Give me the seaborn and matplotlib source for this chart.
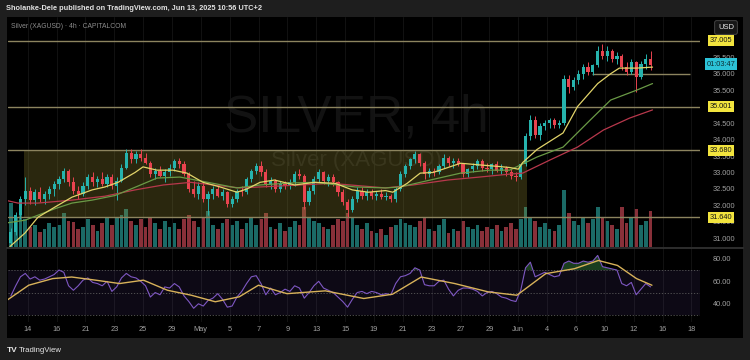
import numpy as np
import seaborn as sns
import matplotlib.pyplot as plt
from matplotlib.patches import Rectangle
from matplotlib.lines import Line2D

# # DATA  (4h silver CFD, aggregated to 3 bars per trading day)

tick_labels = ["14", "16", "21", "23", "25", "29", "May", "5", "7", "9", "13", "15",
               "19", "21", "23", "27", "29", "Jun", "4", "6", "10", "12", "16", "18"]

opens = [30.85, 31.2, 31.7, 32.2, 32.45, 32.15, 32.4, 32.2, 32.35, 32.5,
         32.65, 32.8, 33.05, 32.7, 32.45, 32.35, 32.6, 32.85, 32.7, 32.8,
         32.65, 32.85, 32.6, 32.75, 33.15, 33.6, 33.4, 33.55, 33.45, 33.3,
         32.95, 33.05, 32.9, 33.0, 33.15, 33.35, 33.25, 32.95, 32.5, 32.35,
         32.6, 32.2, 32.35, 32.5, 32.3, 32.4, 32.05, 32.2, 32.45, 32.4,
         32.8, 33.05, 33.2, 33.0, 32.65, 32.75, 32.5, 32.65, 32.6, 32.7,
         32.95, 32.9, 32.1, 32.45, 32.8, 33.0, 32.75, 32.85, 32.7, 32.4,
         32.1, 31.85, 32.2, 32.45, 32.3, 32.4, 32.3, 32.35, 32.25, 32.3,
         32.2, 32.5, 32.95, 33.2, 33.4, 33.55, 33.3, 32.95, 33.05, 33.0,
         33.2, 33.45, 33.3, 33.35, 33.25, 32.95, 33.1, 33.2, 33.35, 33.15,
         33.1, 33.25, 33.05, 33.15, 33.0, 32.9, 32.85, 33.25, 34.1, 34.6,
         34.15, 34.4, 34.5, 34.6, 34.45, 34.5, 35.85, 35.6, 35.8, 36.0,
         36.2, 36.05, 36.25, 36.7, 36.55, 36.7, 36.45, 36.55, 36.2, 36.05,
         36.35, 35.9, 36.3, 36.45]

highs = [31.3, 31.8, 32.3, 32.85, 32.55, 32.5, 32.55, 32.45, 32.6, 32.75,
         32.9, 33.15, 33.1, 32.85, 32.6, 32.7, 32.95, 33.0, 32.9, 33.0,
         32.95, 32.95, 32.85, 33.25, 33.7, 33.7, 33.65, 33.7, 33.6, 33.35,
         33.15, 33.2, 33.1, 33.25, 33.4, 33.45, 33.35, 33.0, 32.75, 32.7,
         32.7, 32.45, 32.6, 32.65, 32.5, 32.45, 32.3, 32.5, 32.6, 32.85,
         33.1, 33.3, 33.35, 33.1, 32.85, 32.8, 32.75, 32.75, 32.8, 33.05,
         33.1, 32.95, 32.55, 32.9, 33.1, 33.05, 32.95, 32.95, 32.75, 32.5,
         32.2, 32.3, 32.55, 32.55, 32.5, 32.5, 32.45, 32.5, 32.4, 32.35,
         32.55, 33.05, 33.25, 33.45, 33.65, 33.6, 33.35, 33.15, 33.15, 33.25,
         33.55, 33.5, 33.45, 33.45, 33.3, 33.15, 33.3, 33.4, 33.4, 33.3,
         33.3, 33.35, 33.25, 33.2, 33.1, 33.0, 33.3, 34.2, 34.75, 34.7,
         34.5, 34.6, 34.65, 34.65, 34.6, 35.95, 35.95, 35.9, 36.1, 36.3,
         36.35, 36.3, 36.85, 36.9, 36.85, 36.75, 36.65, 36.6, 36.35, 36.45,
         36.4, 36.4, 36.6, 36.7]

lows = [30.75, 31.1, 31.6, 32.0, 32.05, 32.0, 32.1, 32.05, 32.2, 32.3,
        32.5, 32.7, 32.6, 32.35, 32.2, 32.3, 32.5, 32.6, 32.55, 32.6,
        32.55, 32.5, 32.15, 32.7, 33.1, 33.3, 33.3, 33.35, 33.25, 32.85,
        32.8, 32.85, 32.7, 32.9, 33.05, 33.15, 32.9, 32.4, 32.25, 32.2,
        32.1, 31.7, 32.2, 32.25, 32.15, 31.95, 31.95, 32.1, 32.3, 32.35,
        32.7, 32.95, 32.9, 32.55, 32.5, 32.4, 32.4, 32.5, 32.5, 32.6,
        32.8, 31.9, 32.0, 32.35, 32.7, 32.65, 32.6, 32.6, 32.3, 32.0,
        31.65, 31.8, 32.1, 32.2, 32.15, 32.2, 32.15, 32.2, 32.15, 32.1,
        32.1, 32.45, 32.85, 33.1, 33.3, 33.2, 32.8, 32.85, 32.9, 32.95,
        33.15, 33.2, 33.15, 33.2, 32.85, 32.85, 33.0, 33.1, 33.05, 33.0,
        32.95, 33.0, 32.95, 32.9, 32.8, 32.75, 32.8, 33.2, 34.0, 34.05,
        34.0, 34.3, 34.35, 34.35, 34.35, 34.45, 35.4, 35.5, 35.7, 35.85,
        35.95, 35.95, 36.2, 36.45, 36.4, 36.35, 36.3, 36.1, 35.95, 36.0,
        35.45, 35.85, 36.15, 36.1]

closes = [31.2, 31.7, 32.2, 32.45, 32.15, 32.4, 32.2, 32.35, 32.5, 32.65,
          32.8, 33.05, 32.7, 32.45, 32.35, 32.6, 32.85, 32.7, 32.8, 32.65,
          32.85, 32.6, 32.75, 33.15, 33.6, 33.4, 33.55, 33.45, 33.3, 32.95,
          33.05, 32.9, 33.0, 33.15, 33.35, 33.25, 32.95, 32.5, 32.35, 32.6,
          32.2, 32.35, 32.5, 32.3, 32.4, 32.05, 32.2, 32.45, 32.4, 32.8,
          33.05, 33.2, 33.0, 32.65, 32.75, 32.5, 32.65, 32.6, 32.7, 32.95,
          32.9, 32.1, 32.45, 32.8, 33.0, 32.75, 32.85, 32.7, 32.4, 32.1,
          31.85, 32.2, 32.45, 32.3, 32.4, 32.3, 32.35, 32.25, 32.3, 32.2,
          32.5, 32.95, 33.2, 33.4, 33.55, 33.3, 32.95, 33.05, 33.0, 33.2,
          33.45, 33.3, 33.35, 33.25, 32.95, 33.1, 33.2, 33.35, 33.15, 33.1,
          33.25, 33.05, 33.15, 33.0, 32.9, 32.85, 33.25, 34.1, 34.6, 34.15,
          34.4, 34.5, 34.6, 34.45, 34.5, 35.85, 35.6, 35.8, 36.0, 36.2,
          36.05, 36.25, 36.7, 36.55, 36.7, 36.45, 36.55, 36.2, 36.05, 36.35,
          35.9, 36.3, 36.45, 36.25]

volumes = [44, 30, 34, 28, 20, 22, 15, 18, 24, 20,
           22, 34, 26, 25, 18, 20, 28, 22, 16, 24,
           30, 22, 30, 32, 38, 26, 22, 28, 20, 30,
           24, 18, 26, 20, 24, 18, 28, 32, 26, 20,
           30, 36, 22, 18, 24, 28, 22, 26, 18, 24,
           30, 22, 28, 34, 20, 18, 24, 16, 20, 26,
           22, 40, 30, 26, 24, 20, 18, 22, 28, 26,
           34, 30, 22, 18, 24, 16, 14, 18, 12, 20,
           22, 28, 24, 22, 20, 26, 30, 18, 16, 22,
           28, 14, 18, 16, 26, 20, 18, 22, 16, 20,
           18, 22, 16, 20, 24, 18, 28, 40, 30, 26,
           20, 24, 18, 16, 22, 57, 34, 26, 22, 30,
           24, 28, 40, 30, 26, 22, 18, 40, 24, 30,
           38, 22, 26, 36]

rsi = [47, 56, 64, 67, 62, 64, 61, 62, 64, 66,
       70, 68, 56, 52, 56, 61, 63, 59, 58, 56,
       60, 51, 55, 63, 67, 64, 63, 60, 56, 46,
       50, 48, 55, 54, 58, 55, 47, 42, 36, 40,
       38, 43, 45, 49, 44, 37, 38, 46, 51, 58,
       64, 65, 58, 48, 54, 48, 50, 53, 51, 56,
       54, 45, 50, 56, 60, 54, 52, 50, 46, 42,
       37, 44, 50, 51, 49, 51, 50, 48, 49, 48,
       58, 64, 65, 67, 72, 70, 57, 56, 56, 60,
       61, 53, 47, 52, 54, 54, 53, 51, 47, 50,
       51, 49, 46, 45, 43, 42, 52, 72, 77, 64,
       66, 68, 66, 64, 65, 76, 78, 76, 76, 78,
       77, 78, 83, 73, 72, 71, 70, 58, 56, 59,
       48, 53, 58, 55]

# moving averages read at a few points (x in trading days from Apr 14)
ma_fast_days = [-1.23, -0.19, 0.71, 1.89, 3.07, 4.46, 5.36, 6.26, 7.44, 7.99, 8.96,
                10.07, 11.04, 12.15, 13.33, 14.5, 15.2, 16.1, 17.1, 18.5, 19.9,
                21.3, 22.5, 23.6, 24.8, 25.3, 26.3, 27.2, 28.1, 30.0, 31.3, 32.7,
                33.4, 34.0, 34.3, 35.3, 37.1, 38.1, 39.5, 40.4, 41.0, 42.2, 43.3]
ma_fast = [30.75, 31.16, 31.64, 31.95, 32.25, 32.47, 32.56, 32.7, 33.0, 33.17, 33.07,
           33.07, 32.98, 32.7, 32.56, 32.4, 32.5, 32.7, 32.77, 32.62, 32.7,
           32.67, 32.47, 32.4, 32.45, 32.4, 32.67, 32.98, 33.0, 33.28, 33.23, 33.18,
           33.15, 33.1, 33.3, 33.7, 34.2, 35.0, 35.7, 36.0, 36.17, 36.17, 36.2]

ma_mid_days = [-1.57, -0.19, 1.89, 3.07, 4.46, 6.05, 7.44, 8.96, 10.55, 12.85, 14.5,
               16.1, 18.2, 19.9, 22.7, 24.8, 25.8, 27.9, 30.0, 32.0, 33.4, 35.3,
               37.1, 39.0, 40.4, 42.2, 43.3]
ma_mid = [31.46, 31.55, 31.9, 32.07, 32.16, 32.3, 32.55, 32.83, 32.86, 32.67, 32.53,
          32.62, 32.68, 32.7, 32.56, 32.53, 32.56, 32.77, 32.98, 33.07, 33.07, 33.47,
          33.77, 34.6, 35.2, 35.5, 35.7]

ma_slow_days = [-1.57, -0.67, 0.71, 3.07, 5.36, 7.44, 9.4, 11.3, 12.85, 14.7, 16.1,
                18.9, 21.0, 24.8, 26.7, 29.1, 31.3, 33.4, 34.3, 36.2, 38.1, 39.9,
                41.7, 43.3]
ma_slow = [32.16, 32.07, 32.07, 32.16, 32.28, 32.47, 32.62, 32.7, 32.62, 32.53, 32.56,
           32.62, 32.67, 32.53, 32.62, 32.77, 32.86, 32.95, 32.98, 33.38, 33.77, 34.29,
           34.65, 34.9]

rsi_ma_days = [-1.43, 0.07, 1.73, 3.05, 4.71, 6.37, 8.02, 9.69, 11.34, 13.0, 14.66,
               15.99, 17.97, 20.63, 23.29, 25.28, 27.27, 29.59, 31.91, 33.9, 35.9,
               37.89, 39.55, 40.87, 42.19, 43.26]
rsi_ma = [43.2, 56.5, 62.4, 63.8, 61, 58, 61, 52, 47.6, 41.8, 46.2,
          56.5, 49, 51.5, 44.7, 48.5, 63.8, 58, 50.6, 47.6, 66.8,
          71.2, 78.5, 74.1, 62.4, 56.5]

levels = [37.005, 35.001, 33.680, 31.640]
level_short = 36.0
box_start, box_end = -0.26, 34.6
price_ticks = [31.0, 31.5, 32.0, 32.5, 33.0, 33.5, 34.0, 34.5, 35.5, 36.0, 36.5]

# # LAYOUT HELPERS

W, H = 750, 360
BG = "#1e1e1e"
TEAL, RED = "#26b3ad", "#e8434f"
TAN = "#8c845f"
GRID = "#151515"


def rect(x0, y0, x1, y1):
    # pixel box (top-left origin) -> figure fraction
    return [x0 / W, 1 - y1 / H, (x1 - x0) / W, (y1 - y0) / H]


sns.set_theme(style="dark")
plt.rcParams['font.family'] = ['Liberation Sans', 'DejaVu Sans']

fig = plt.figure(figsize=(7.5, 3.6), dpi=100, facecolor=BG)
fig.add_artist(Rectangle((7 / W, 1 - 338 / H), 736 / W, 321 / H,
                         transform=fig.transFigure, facecolor="#000000",
                         edgecolor="none", zorder=-5))

n = len(closes)
xs = np.arange(n) / 3 - 7 / 6
up = np.array(closes) >= np.array(opens)
cols = np.where(up, TEAL, RED)
vcols = np.where(up, "#1b6a66", "#883039")
xlim = (-1.365, 46.59)
ticks = np.arange(len(tick_labels)) * 2


def style(a):
    a.set_facecolor("none")
    for s in a.spines.values():
        s.set_visible(False)
    a.set_xlim(*xlim)
    a.set_xlabel("")
    a.set_ylabel("")


# volume (drawn beneath price)
vax = fig.add_axes(rect(8, 17, 700, 247), label="vol")
style(vax)
vax.bar(xs, volumes, width=0.26, color=vcols, linewidth=0)
vax.set_ylim(0, 230)
vax.set_xticks([])
vax.set_yticks([])

# price pane
ax = fig.add_axes(rect(8, 17, 700, 247), label="price")
style(ax)
ax.set_ylim(30.736, 37.722)
ax.set_xticks(ticks)
ax.xaxis.grid(True, color=GRID, lw=0.6)
ax.tick_params(axis="x", length=0, labelbottom=False)
ax.yaxis.tick_right()
ax.set_yticks(price_ticks)
ax.set_yticklabels([f"{v:.3f}" for v in price_ticks])
ax.tick_params(axis="y", length=0, pad=9, labelsize=5.3, colors="#a0a0a0")

ax.text(0.503, 0.56, "SILVER, 4h", transform=ax.transAxes, ha="center", va="center",
        fontsize=37, color="white", alpha=0.075, zorder=0.2)
ax.text(0.503, 0.378, "Silver (XAGUSD)", transform=ax.transAxes, ha="center",
        va="center", fontsize=16, color="white", alpha=0.085, zorder=0.2)

ax.add_patch(Rectangle((box_start, levels[3]), box_end - box_start, levels[2] - levels[3],
                       facecolor=(0.6, 0.56, 0.2), alpha=0.28, edgecolor="none", zorder=1))
for lv in levels:
    ax.axhline(lv, color=TAN, lw=1, zorder=2)
ax.hlines(level_short, 39.1, 45.9, color=TAN, lw=1, zorder=2)

ax.vlines(xs, lows, highs, colors=cols, lw=0.7, zorder=3)
bottoms = np.minimum(opens, closes)
heights = np.maximum(np.abs(np.array(closes) - np.array(opens)), 0.012)
ax.bar(xs, heights, bottom=bottoms, width=0.22, color=cols, linewidth=0, zorder=4)

sns.lineplot(x=ma_slow_days, y=ma_slow, ax=ax, color="#b8384c", linewidth=0.9, zorder=5)
sns.lineplot(x=ma_mid_days, y=ma_mid, ax=ax, color="#6a9a46", linewidth=0.9, zorder=5)
sns.lineplot(x=ma_fast_days, y=ma_fast, ax=ax, color="#e2d46a", linewidth=0.9, zorder=6)
ax.set_xlabel("")
ax.set_ylabel("")

for lv in levels:
    ax.text(1.0303, lv, f"{lv:.3f}", transform=ax.get_yaxis_transform(), ha="center",
            va="center", fontsize=5.3, color="#151515", clip_on=False, zorder=10,
            bbox=dict(boxstyle="square,pad=0.28", fc="#f2e43e", ec="none"))

# RSI pane
rax = fig.add_axes(rect(8, 248, 700, 322), label="rsi")
style(rax)
rax.set_ylim(23.8, 89.6)
rax.axhspan(30, 70, color="#7e57c2", alpha=0.11, lw=0)
for lv in (70, 50, 30):
    rax.axhline(lv, color="#5a5a5a", lw=0.6, dashes=(1.5, 2))
rsi_arr = np.array(rsi, dtype=float)
rax.fill_between(xs, rsi_arr, 70, where=rsi_arr > 70, interpolate=True,
                 color="#3a8a45", alpha=0.45, lw=0)
sns.lineplot(x=xs, y=rsi_arr, ax=rax, color="#7e57c2", linewidth=0.8)
sns.lineplot(x=rsi_ma_days, y=rsi_ma, ax=rax, color="#d8b25a", linewidth=1.0)
rax.set_xlabel("")
rax.set_ylabel("")
rax.set_xticks(ticks)
rax.set_xticklabels(tick_labels)
rax.xaxis.grid(True, color=GRID, lw=0.6)
rax.tick_params(axis="x", length=0, pad=3, labelsize=5.3, colors="#a0a0a0")
rax.yaxis.tick_right()
rax.set_yticks([40, 60, 80])
rax.set_yticklabels(["40.00", "60.00", "80.00"])
rax.tick_params(axis="y", length=0, pad=9, labelsize=5.3, colors="#a0a0a0")

# separator between panes
fig.add_artist(Line2D([7 / W, 743 / W], [1 - 247.5 / H] * 2, transform=fig.transFigure,
                      color="#353535", lw=1.2))

# header / badges / footer
fig.text(6 / W, 1 - 9 / H, "Sholanke-Dele published on TradingView.com, Jun 13, 2025 10:56 UTC+2",
         ha="left", va="center", fontsize=5.3, weight="bold", color="#e2e2e2")
fig.text(11 / W, 1 - 26 / H, "Silver (XAGUSD) \u00b7 4h \u00b7 CAPITALCOM", ha="left",
         va="center", fontsize=4.9, color="#8c8c8c")
fig.text(726 / W, 1 - 27.5 / H, "USD", ha="center", va="center", fontsize=5.5,
         color="#e8e8e8", zorder=10,
         bbox=dict(boxstyle="round,pad=0.45,rounding_size=0.3", fc="#161616", ec="#3c3c3c", lw=0.8))
fig.text(721 / W, 1 - 64 / H, "01:03:47", ha="center", va="center", fontsize=5.3,
         color="#0d2f35", zorder=10,
         bbox=dict(boxstyle="square,pad=0.28", fc="#2cc3d8", ec="none"))
fig.text(7 / W, 1 - 350 / H, "TV", ha="left", va="center", fontsize=6, weight="bold",
         color="#e8e8e8")
fig.text(19 / W, 1 - 350 / H, "TradingView", ha="left", va="center", fontsize=5.6,
         color="#e8e8e8")

plt.savefig("out.png", dpi=100, facecolor=BG)
plt.close()
